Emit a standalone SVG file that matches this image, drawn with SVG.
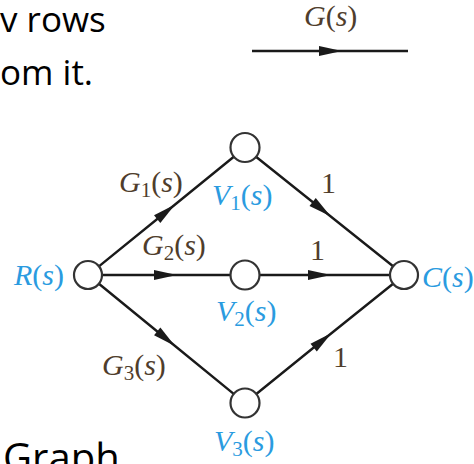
<svg xmlns="http://www.w3.org/2000/svg" width="474" height="464" viewBox="0 0 474 464">
  <style>
    .body { font-family: "Open Sans", "Liberation Sans", sans-serif; fill: #000; }
    .math { font-family: "Liberation Serif", "Times New Roman", serif; font-size: 30px; }
    .it { font-style: italic; }
    .sub { font-size: 21px; font-style: normal; }
    .gain { fill: #4f3d2c; }
    .var { fill: #2a9be0; }
    .node { fill: #fff; stroke: #333; stroke-width: 2.2; }
    .edge { fill: none; stroke: #1a1a1a; stroke-width: 2.4; marker-mid: url(#ah); }
  </style>
  <defs>
    <marker id="ah" markerUnits="userSpaceOnUse" markerWidth="26" markerHeight="12" refX="12" refY="5" orient="auto" overflow="visible">
      <path d="M0,0 L23,5 L0,10 Z" fill="#1a1a1a"/>
    </marker>
  </defs>

  <!-- page text -->
  <g id="page-text" class="body">
    <text x="0" y="32" font-size="35">v rows</text>
    <text x="0" y="85" font-size="35">om it.</text>
    <text x="3" y="472" font-size="40">Graph</text>
  </g>

  <!-- legend branch -->
  <g id="legend">
    <path class="edge" d="M252,51 L331,51 L408,51"/>
    <text class="math gain" x="304" y="26"><tspan class="it">G</tspan>(<tspan class="it">s</tspan>)</text>
  </g>

  <!-- connectors -->
  <g id="connectors">
    <path class="edge" d="M98.9,266.4 L166.5,211.5 L233.8,156.8"/>
    <path class="edge" d="M102,275 L166,275 L231,275"/>
    <path class="edge" d="M98.9,283.8 L166.5,339 L233.7,393.9"/>
    <path class="edge" d="M256.3,157 L322,209.5 L393.1,266.3"/>
    <path class="edge" d="M259,275 L320,275 L390,275"/>
    <path class="edge" d="M256.3,394 L323,340 L393.1,283.7"/>
    <text class="math gain" x="119" y="192"><tspan class="it">G</tspan><tspan class="sub" dy="5">1</tspan><tspan dy="-5">(</tspan><tspan class="it">s</tspan>)</text>
    <text class="math gain" x="142" y="255"><tspan class="it">G</tspan><tspan class="sub" dy="5">2</tspan><tspan dy="-5">(</tspan><tspan class="it">s</tspan>)</text>
    <text class="math gain" x="102" y="375"><tspan class="it">G</tspan><tspan class="sub" dy="5">3</tspan><tspan dy="-5">(</tspan><tspan class="it">s</tspan>)</text>
    <text class="math gain" x="321" y="193">1</text>
    <text class="math gain" x="310" y="260">1</text>
    <text class="math gain" x="333" y="367">1</text>
  </g>

  <!-- nodes -->
  <g id="node-R">
    <circle class="node" cx="88" cy="275" r="14"/>
    <text class="math var" x="14" y="285"><tspan class="it">R</tspan>(<tspan class="it">s</tspan>)</text>
  </g>
  <g id="node-V1">
    <circle class="node" cx="245" cy="147.5" r="14.5"/>
    <text class="math var" x="212" y="205"><tspan class="it">V</tspan><tspan class="sub" dy="5">1</tspan><tspan dy="-5">(</tspan><tspan class="it">s</tspan>)</text>
  </g>
  <g id="node-V2">
    <circle class="node" cx="245" cy="275" r="14.5"/>
    <text class="math var" x="216" y="321"><tspan class="it">V</tspan><tspan class="sub" dy="5">2</tspan><tspan dy="-5">(</tspan><tspan class="it">s</tspan>)</text>
  </g>
  <g id="node-V3">
    <circle class="node" cx="245" cy="403" r="14.5"/>
    <text class="math var" x="214" y="451"><tspan class="it">V</tspan><tspan class="sub" dy="5">3</tspan><tspan dy="-5">(</tspan><tspan class="it">s</tspan>)</text>
  </g>
  <g id="node-C">
    <circle class="node" cx="404" cy="275" r="14"/>
    <text class="math var" x="422" y="287"><tspan class="it">C</tspan>(<tspan class="it">s</tspan>)</text>
  </g>
</svg>
